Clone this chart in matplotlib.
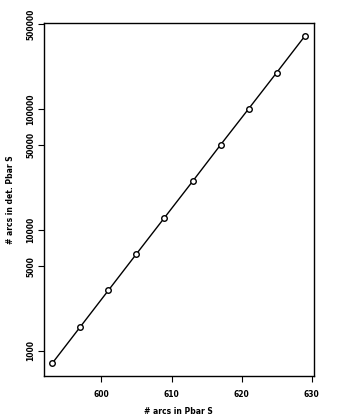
import matplotlib
matplotlib.use('Agg')
import matplotlib.pyplot as plt
from matplotlib.ticker import FixedLocator, NullLocator

# data
arcs = [593, 597, 601, 605, 609, 613, 617, 621, 625, 629]
det_arcs = [790, 1580, 3160, 6320, 12600, 25100, 50400, 100000, 199000, 398000]

xticks = [600, 610, 620, 630]
yticks = [1000, 5000, 10000, 50000, 100000, 500000]

plt.rcParams['font.family'] = 'DejaVu Sans'

fig = plt.figure(figsize=(3.48, 4.2), dpi=100)
ax = fig.add_axes([0.126, 0.105, 0.776, 0.84])

ax.plot(arcs, det_arcs, color='black', lw=1.0, zorder=1)
ax.plot(arcs, det_arcs, 'o', ms=4, mfc='white', mec='black', mew=1.0, zorder=2)

ax.set_yscale('log')
ax.set_xlim(591.8, 630.3)
ax.set_ylim(621, 5.1e5)

ax.xaxis.set_major_locator(FixedLocator(xticks))
ax.yaxis.set_major_locator(FixedLocator(yticks))
ax.yaxis.set_minor_locator(NullLocator())
ax.set_xticklabels([str(t) for t in xticks], fontsize=5.5, fontweight='bold')
ax.set_yticklabels([str(t) for t in yticks], fontsize=5.5, fontweight='bold',
                   rotation=90, va='center')
ax.tick_params(axis='x', direction='out', length=4, width=0.8, pad=6)
ax.tick_params(axis='y', direction='out', length=4, width=0.8, pad=2)

for s in ax.spines.values():
    s.set_linewidth(1.0)

ax.set_xlabel('# arcs in Pbar S', fontsize=5.5, fontweight='bold', labelpad=6)
ax.set_ylabel('# arcs in det. Pbar S', fontsize=5.5, fontweight='bold', labelpad=8)

fig.savefig('out.png', dpi=100)
